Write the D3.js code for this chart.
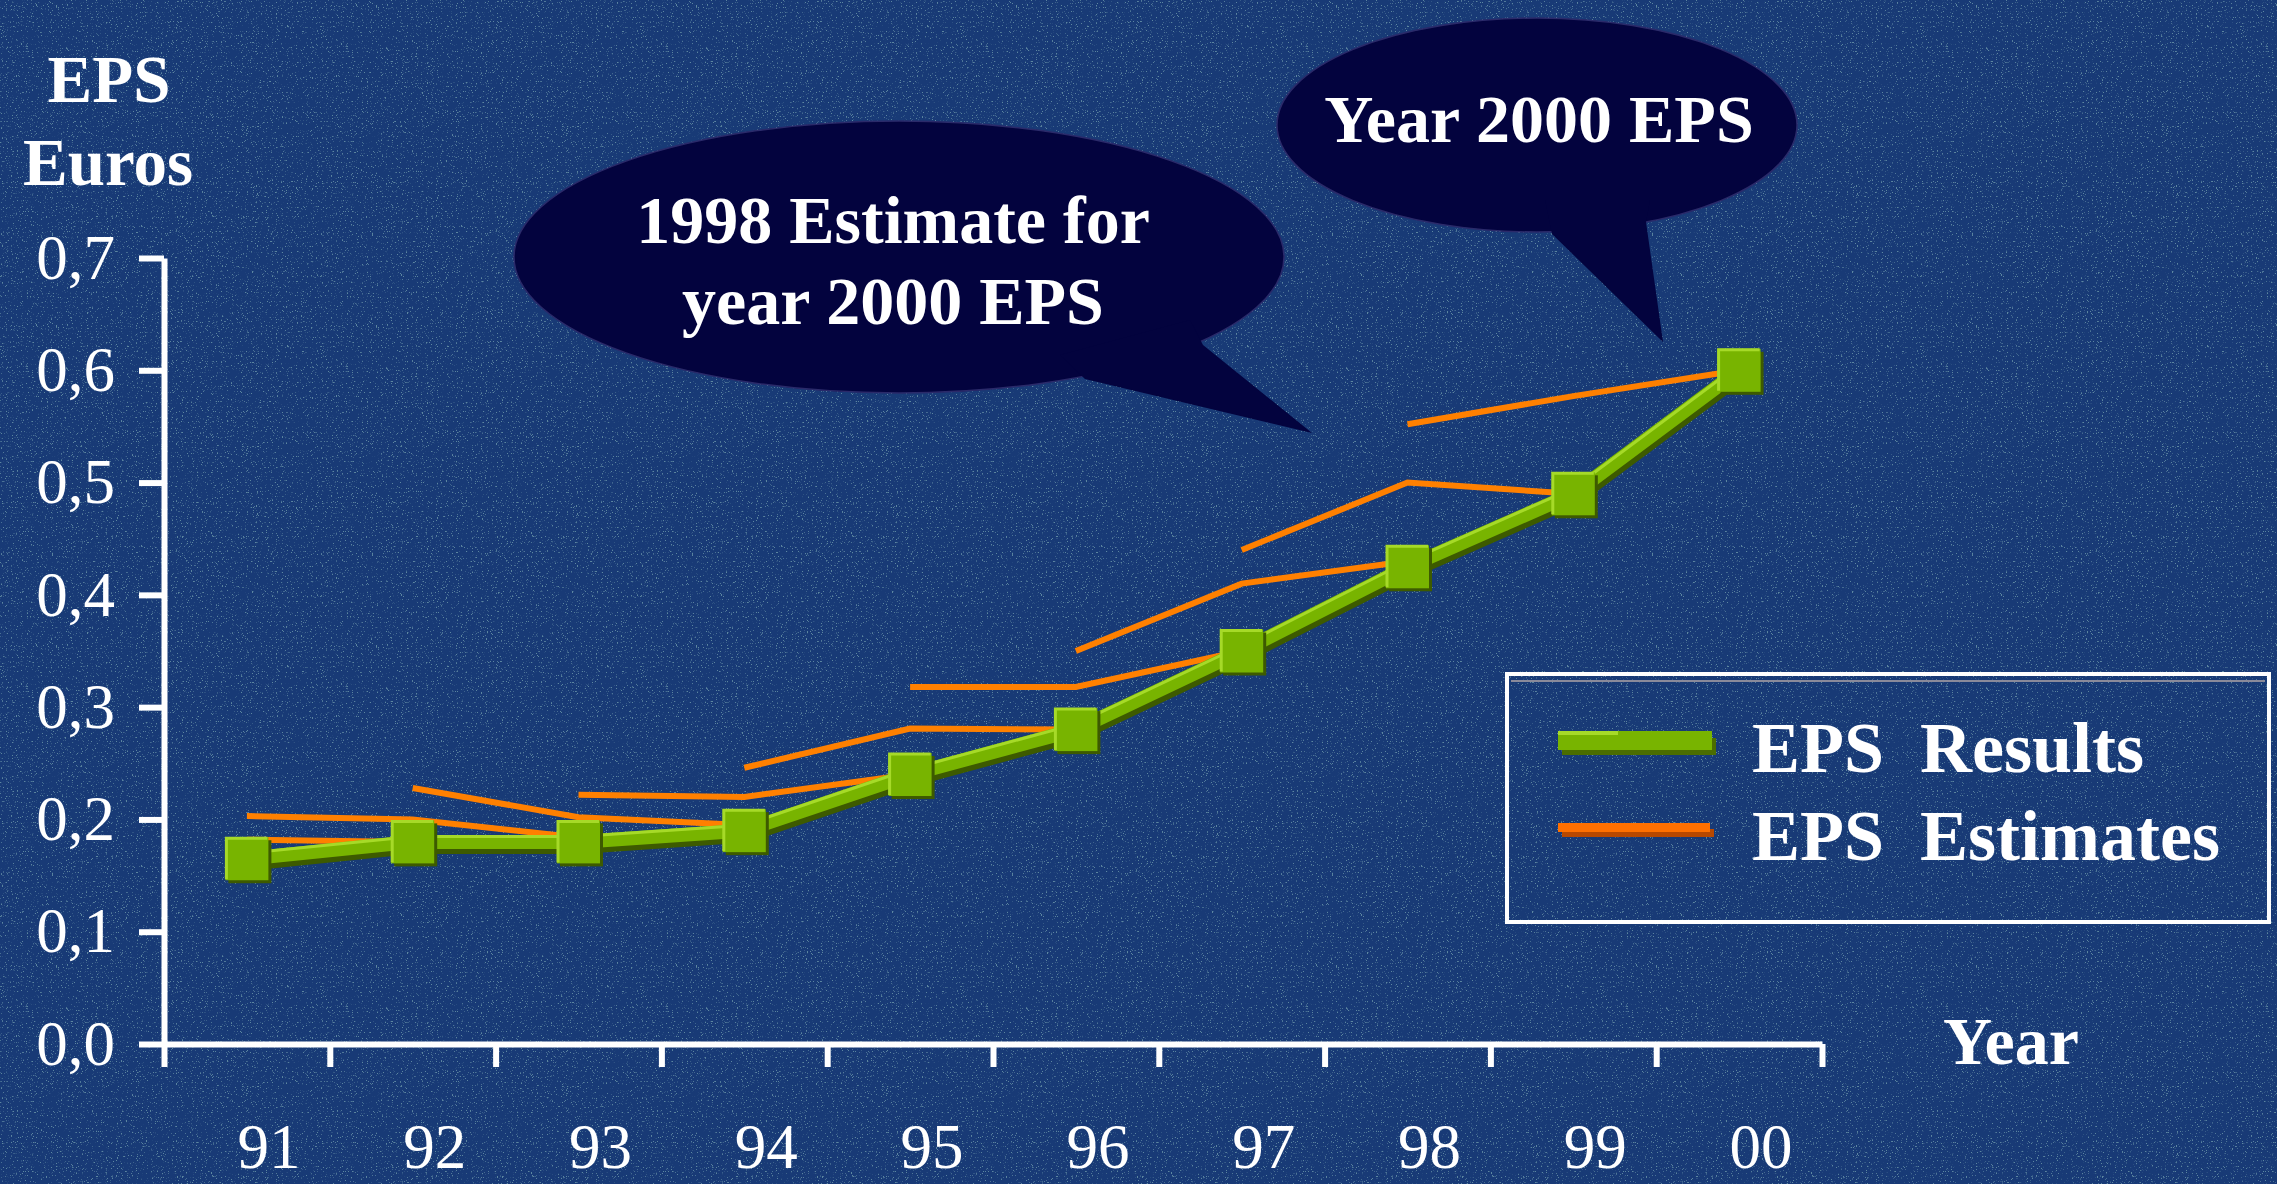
<!DOCTYPE html>
<html>
<head>
<meta charset="utf-8">
<script src="https://cdn.jsdelivr.net/npm/d3@7"></script>
<style>
  html, body { margin: 0; padding: 0; background: #183a76; }
  svg { display: block; }
  text { font-family: "Liberation Serif", "Times New Roman", serif; fill: #ffffff; }
</style>
</head>
<body>
<svg id="chart" width="2277" height="1184"></svg>
<script>
// ---- data ----
const years = ["91", "92", "93", "94", "95", "96", "97", "98", "99", "00"];
const epsResults = [0.165, 0.18, 0.18, 0.19, 0.24, 0.28, 0.35, 0.425, 0.49, 0.60];

// each estimate run covers consecutive years, starting at the year given with it
const est90 = [0.182, 0.180];
const est91 = [0.203, 0.200, 0.184];
const est92 = [0.228, 0.202, 0.195];
const est93 = [0.222, 0.220, 0.240];
const est94 = [0.246, 0.281, 0.280];
const est95 = [0.318, 0.318, 0.350];
const est96 = [0.350, 0.410, 0.430];
const est97 = [0.440, 0.500, 0.490];
const est98 = [0.552, 0.577, 0.600];
const estimateRuns = [
  ["91", est90], ["91", est91], ["92", est92], ["93", est93], ["94", est94],
  ["95", est95], ["96", est96], ["97", est97], ["98", est98]
];

const yTicks = [0, 0.1, 0.2, 0.3, 0.4, 0.5, 0.6, 0.7];
const legendLabels = ["EPS\u00a0\u00a0Results", "EPS\u00a0\u00a0Estimates"];
const bubbleEstimateLines = ["1998 Estimate for", "year 2000 EPS"];
const bubbleActualText = "Year 2000 EPS";

// ---- layout ----
const W = 2277, H = 1184;
const plot = { left: 164, right: 1822, top: 258, bottom: 1044 };

const svg = d3.select("#chart");
const defs = svg.append("defs");

// fine speckled texture over the backdrop
const f = defs.append("filter").attr("id", "speckle")
  .attr("x", 0).attr("y", 0).attr("width", "100%").attr("height", "100%");
f.append("feTurbulence").attr("type", "fractalNoise").attr("baseFrequency", 0.8)
  .attr("numOctaves", 2).attr("seed", 7).attr("result", "noise");
f.append("feColorMatrix").attr("in", "noise").attr("type", "matrix")
  .attr("values", "0 0 0 0 0.30  0 0 0 0 0.55  0 0 0 0 0.55  9 0 0 0 -5.7");

svg.append("rect").attr("width", W).attr("height", H).attr("fill", "#183a76");
svg.append("rect").attr("width", W).attr("height", H).attr("fill", "#000")
  .attr("filter", "url(#speckle)").attr("opacity", 0.55);

// ---- scales ----
const x = d3.scaleBand().domain(years).range([plot.left, plot.right]).padding(0);
const xc = d => x(d) + x.bandwidth() / 2;
const xEdge = d3.scaleLinear().domain([0, years.length]).range([plot.left, plot.right]);
const y = d3.scaleLinear().domain([0, 0.7]).range([plot.bottom, plot.top]);

const locale = d3.formatLocale({ decimal: ",", thousands: ".", grouping: [3], currency: ["", " €"] });
const fmt = locale.format(".1f");

// ---- callout bubbles: ellipse plus a pointed tail ----
function bubble(cx, cy, rx, ry, tail) {
  const g = svg.append("g").attr("fill", "#03033e");
  g.append("ellipse").attr("cx", cx).attr("cy", cy).attr("rx", rx).attr("ry", ry)
    .attr("stroke", "#2a2a6a").attr("stroke-width", 1.5);
  g.append("path").attr("d", d3.line()(tail) + "Z");
  return g;
}
bubble(899, 257, 385, 136, [[1060, 355], [1085, 379], [1312, 433], [1203, 345], [1190, 320]]);
svg.append("g").selectAll("text").data(bubbleEstimateLines).join("text")
  .attr("x", 893).attr("y", (d, i) => 243 + i * 81)
  .attr("text-anchor", "middle").attr("font-size", 68).attr("font-weight", "bold")
  .text(d => d);

bubble(1537, 125, 260, 107, [[1545, 200], [1552, 234], [1663, 342], [1646, 222], [1650, 200]]);
svg.append("text").attr("x", 1539).attr("y", 142).attr("text-anchor", "middle")
  .attr("font-size", 68).attr("font-weight", "bold").text(bubbleActualText);

// ---- axes ----
const yAxisG = svg.append("g").attr("transform", `translate(${plot.left},0)`)
  .call(d3.axisLeft(y).tickValues(yTicks).tickFormat(fmt).tickSize(25).tickSizeOuter(0).tickPadding(24));
const xAxisG = svg.append("g").attr("transform", `translate(0,${plot.bottom})`)
  .call(d3.axisBottom(xEdge).tickValues(d3.range(years.length + 1)).tickFormat("").tickSize(23).tickSizeOuter(0));

[yAxisG, xAxisG].forEach(g => {
  g.attr("font-family", null).attr("font-size", null);
  g.select(".domain").attr("stroke", "#fff").attr("stroke-width", 6);
  g.selectAll(".tick line").attr("stroke", "#fff").attr("stroke-width", 6);
});
yAxisG.selectAll(".tick text").attr("fill", "#fff").attr("font-size", 63)
  .attr("font-family", "'Liberation Serif','Times New Roman',serif");

svg.append("g").selectAll("text").data(years).join("text")
  .attr("x", d => xc(d) + 22).attr("y", 1168)
  .attr("text-anchor", "middle").attr("font-size", 63).text(d => d);

// axis titles
svg.append("text").attr("x", 109).attr("y", 102).attr("text-anchor", "middle")
  .attr("font-size", 67).attr("font-weight", "bold").text("EPS");
svg.append("text").attr("x", 108).attr("y", 185).attr("text-anchor", "middle")
  .attr("font-size", 67).attr("font-weight", "bold").text("Euros");
svg.append("text").attr("x", 1943).attr("y", 1064)
  .attr("font-size", 68).attr("font-weight", "bold").text("Year");

// ---- estimate lines ----
const line = d3.line().x(d => xc(d.year)).y(d => y(d.v)).curve(d3.curveLinear);
const runs = estimateRuns.map(([start, vals]) => {
  const i0 = years.indexOf(start);
  return vals.map((v, k) => ({ year: years[i0 + k], v }));
});
svg.append("g").selectAll("path").data(runs).join("path")
  .attr("d", line).attr("fill", "none").attr("stroke", "#ff8000")
  .attr("stroke-width", 6).attr("stroke-linejoin", "miter");

// ---- EPS results: bevelled thick line with square markers ----
const results = years.map((yr, i) => ({ year: yr, v: epsResults[i] }));
const rg = svg.append("g");
rg.append("path").datum(results).attr("d", line).attr("transform", "translate(2,5)")
  .attr("fill", "none").attr("stroke", "#3d5a00").attr("stroke-width", 14);
rg.append("path").datum(results).attr("d", line)
  .attr("fill", "none").attr("stroke", "#78b400").attr("stroke-width", 14);
rg.append("path").datum(results).attr("d", line).attr("transform", "translate(0,-5.5)")
  .attr("fill", "none").attr("stroke", "#a6da28").attr("stroke-width", 3);

const S = 43;
const sq = rg.selectAll("g.marker").data(results).join("g").attr("class", "marker")
  .attr("transform", d => `translate(${xc(d.year)},${y(d.v)})`);
sq.append("rect").attr("x", -S / 2 + 3).attr("y", -S / 2 + 3).attr("width", S).attr("height", S)
  .attr("fill", "#3d5a00");
sq.append("rect").attr("x", -S / 2).attr("y", -S / 2).attr("width", S).attr("height", S)
  .attr("fill", "#78b400");
sq.append("path").attr("d", `M${-S / 2 + 1},${S / 2 - 1}V${-S / 2 + 1}H${S / 2 - 1}`)
  .attr("fill", "none").attr("stroke", "#a6da28").attr("stroke-width", 3);

// ---- legend ----
const lg = svg.append("g");
lg.append("rect").attr("x", 1507).attr("y", 674).attr("width", 762).attr("height", 248)
  .attr("fill", "none").attr("stroke", "#fff").attr("stroke-width", 4);
lg.append("line").attr("x1", 1511).attr("x2", 2265).attr("y1", 681).attr("y2", 681)
  .attr("stroke", "#8a8a9a").attr("stroke-width", 2);

// results swatch
lg.append("rect").attr("x", 1562).attr("y", 738).attr("width", 154).attr("height", 17).attr("fill", "#4b6d00");
lg.append("rect").attr("x", 1558).attr("y", 731).attr("width", 154).attr("height", 19).attr("fill", "#78b400");
lg.append("rect").attr("x", 1558).attr("y", 731).attr("width", 60).attr("height", 4).attr("fill", "#a6da28");
// estimates swatch
lg.append("rect").attr("x", 1562).attr("y", 829).attr("width", 152).attr("height", 8).attr("fill", "#b84800");
lg.append("rect").attr("x", 1558).attr("y", 823).attr("width", 152).attr("height", 9).attr("fill", "#ff7000");

lg.selectAll("text").data(legendLabels).join("text")
  .attr("x", 1752).attr("y", (d, i) => 772 + i * 88)
  .attr("font-size", 72).attr("font-weight", "bold").text(d => d);
</script>
</body>
</html>
